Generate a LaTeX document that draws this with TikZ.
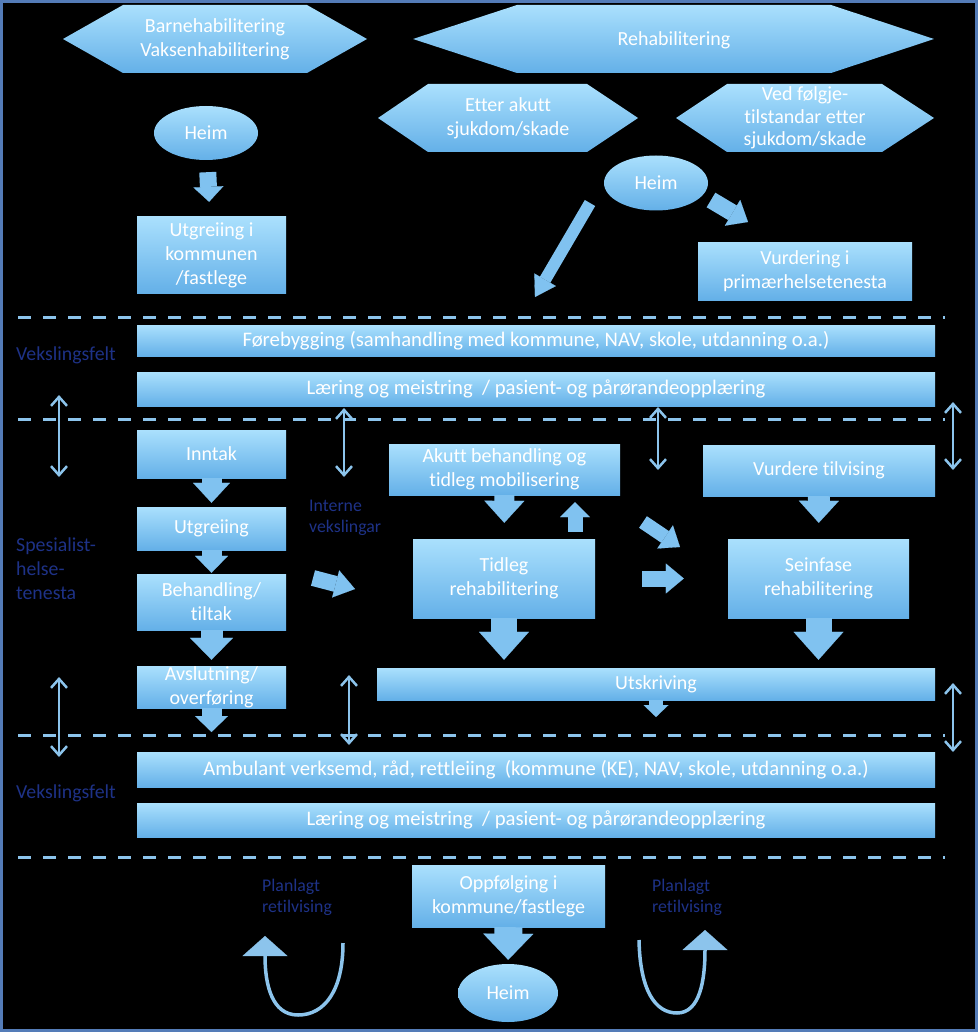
\documentclass[tikz,border=0pt]{standalone}
\usepackage{fontspec}
\setmainfont{Carlito}[Ligatures=NoCommon]
\usetikzlibrary{arrows.meta,shapes.geometric}
\definecolor{boxtop}{RGB}{170,224,253}
\definecolor{boxbot}{RGB}{100,176,232}
\definecolor{arrowblue}{RGB}{128,194,240}
\definecolor{dashblue}{RGB}{140,196,236}
\definecolor{lblblue}{RGB}{30,50,135}
\definecolor{frameblue}{RGB}{84,124,184}

\tikzset{
  boxfill/.style={top color=boxtop, bottom color=boxbot},
  txt/.style={font=\fontsize{20}{24}\selectfont, text=white, align=center},
  box/.style={boxfill, txt, inner sep=0pt},
  bar/.style={box, font=\fontsize{20.7}{24}\selectfont},
  heim/.style={ellipse, boxfill, txt, inner sep=0pt},
  lbl/.style={font=\fontsize{19.8}{24}\selectfont, text=lblblue, align=left, anchor=west, inner sep=0pt},
  smalllbl/.style={lbl, font=\fontsize{17.8}{21}\selectfont},
  blockarrow/.style n args={3}{draw=arrowblue, line width=#1pt, -{Triangle[width=#2pt, length=#3pt, line width=0.1pt]}},
  dashline/.style={draw=dashblue, line width=3pt, dash pattern=on 13pt off 12pt},
  dblarrow/.style={draw=dashblue, line width=2.5pt, {Straight Barb[width=16pt, length=9pt]}-{Straight Barb[width=16pt, length=9pt]}},
  curvarrow/.style={draw=dashblue, line width=3.5pt, -{Triangle[width=45pt, length=20pt, line width=0.1pt]}},
}

\begin{document}
\begin{tikzpicture}[x=1pt, y=-1pt]
  \useasboundingbox (0,0) rectangle (978,1032);
  \fill[black] (0,0) rectangle (978,1032);
  \draw[frameblue, line width=3pt] (1.5,1.5) rectangle (976.5,1030.5);

  %% Top: habilitering / rehabilitering
  \shade[boxfill] (63,39) -- (123,5) -- (307,5) -- (367,39) -- (307,73) -- (123,73) -- cycle;
  \node[txt] (habil) at (215,39) {Barnehabilitering\\Vaksenhabilitering};
  \shade[boxfill] (413,39) -- (517,5) -- (831,5) -- (934,39) -- (831,73) -- (517,73) -- cycle;
  \node[txt] (rehab) at (674,40) {Rehabilitering};
  \shade[boxfill] (378,118) -- (428,84) -- (587,84) -- (638,118) -- (587,152) -- (428,152) -- cycle;
  \node[txt] (akuttskade) at (508,118) {Etter akutt\\sjukdom/skade};
  \shade[boxfill] (676,118) -- (727,84) -- (882,84) -- (934,118) -- (882,152) -- (727,152) -- cycle;
  \node[txt, font=\fontsize{20}{22.5}\selectfont] (folgje) at (805,118) {Ved følgje-\\tilstandar etter\\sjukdom/skade};

  \node[heim, minimum width=104, minimum height=54] (heimA) at (206,133) {Heim};
  \node[box, minimum width=149, minimum height=76] (utgkom) at (211.5,255) {Utgreiing i\\kommunen\\/fastlege};
  \node[heim, minimum width=104, minimum height=55] (heimB) at (656,183) {Heim};
  \node[box, minimum width=214, minimum height=58] (vurd) at (805,271) {Vurdering i\\primærhelsetenesta};

  %% Dashed borders
  \draw[dashline] (18,317) -- (945,317);
  \draw[dashline] (18,419) -- (945,419);
  \draw[dashline] (18,735) -- (945,735);
  \draw[dashline] (18,857) -- (945,857);

  %% Vekslingsfelt, top
  \node[lbl] (vekslA) at (16,355) {Vekslingsfelt};
  \node[bar, minimum width=798, minimum height=31] (foreb) at (536,340.5) {Førebygging (samhandling med kommune, NAV, skole, utdanning o.a.)};
  \node[bar, minimum width=798, minimum height=34] (laerA) at (536,389) {Læring og meistring~ / pasient- og pårørandeopplæring};

  %% Spesialisthelsetenesta
  \node[lbl] (spes) at (16,569) {Spesialist-\\helse-\\tenesta};
  \node[smalllbl] (interne) at (309,517.5) {Interne\\vekslingar};
  \node[box, minimum width=149, minimum height=48] (inntak) at (211.5,454) {Inntak};
  \node[box, minimum width=149, minimum height=43] (utgr) at (211.5,528.5) {Utgreiing};
  \node[box, minimum width=149, minimum height=56] (behand) at (211.5,602) {Behandling/\\tiltak};
  \node[box, minimum width=149, minimum height=42] (avsl) at (211.5,687) {Avslutning/\\overføring};
  \node[box, minimum width=231, minimum height=51] (akutt) at (504.5,469.5) {Akutt behandling og\\tidleg mobilisering};
  \node[box, minimum width=182, minimum height=79] (tidleg) at (504,578.5) {Tidleg\\rehabilitering};
  \node[box, minimum width=232, minimum height=51] (vurdtil) at (819,470.5) {Vurdere tilvising};
  \node[box, minimum width=181, minimum height=79] (seinf) at (818.5,578.5) {Seinfase\\rehabilitering};
  \node[box, minimum width=558, minimum height=32] (utskr) at (656,684) {Utskriving};

  %% Vekslingsfelt, bottom
  \node[lbl] (vekslB) at (16,793) {Vekslingsfelt};
  \node[bar, minimum width=798, minimum height=35] (ambul) at (536,769.5) {Ambulant verksemd, råd, rettleiing~ (kommune (KE), NAV, skole, utdanning o.a.)};
  \node[bar, minimum width=798, minimum height=34] (laerB) at (536,820) {Læring og meistring~ / pasient- og pårørandeopplæring};

  %% Oppfolging
  \node[box, minimum width=193, minimum height=62] (oppf) at (508.5,896) {Oppfølging i\\kommune/fastlege};
  \node[heim, minimum width=100, minimum height=58] (heimC) at (508,993) {Heim};
  \node[smalllbl] (planA) at (262,897.5) {Planlagt\\retilvising};
  \node[smalllbl] (planB) at (652,897.5) {Planlagt\\retilvising};

  %% Free ends
  \coordinate (homeL1) at (590,203);
  \coordinate (homeL2) at (535,297);
  \coordinate (homeR1) at (711,200);
  \coordinate (homeR2) at (748,222);
  \coordinate (midD1) at (643,522);
  \coordinate (midD2) at (680,547);
  \coordinate (intern1) at (313,578);
  \coordinate (intern2) at (355,589);
  \coordinate (avslEnd) at (211.5,732);
  \coordinate (utskrEnd) at (656,717);

  %% Block arrows
  \draw[blockarrow={17}{30}{15}, shorten <=12pt, shorten >=15pt] (heimA) -- (utgkom);
  \draw[blockarrow={12}{25}{20}] (homeL1) -- (homeL2);
  \draw[blockarrow={17}{30}{18}] (homeR1) -- (homeR2);
  \draw[blockarrow={20}{37}{20}, shorten >=4pt] (inntak) -- (utgr);
  \draw[blockarrow={20}{33}{17}, shorten >=1pt] (utgr) -- (behand);
  \draw[blockarrow={22}{43}{22}, shorten >=6pt] (behand) -- (avsl);
  \draw[blockarrow={20}{33}{16}] (avsl) -- (avslEnd);
  \draw[blockarrow={20}{40}{22}, shorten >=16pt] (akutt) -- (tidleg);
  \draw[blockarrow={15}{30}{15}, shorten <=7pt, shorten >=7pt] ([xshift=71pt]tidleg.north) -- ([xshift=71pt]tidleg.north |- akutt.south);
  \draw[blockarrow={26}{50}{28}, shorten >=8pt] (tidleg.south) -- (tidleg.south |- utskr.north);
  \draw[blockarrow={22}{40}{22}, shorten >=16pt] (vurdtil) -- (seinf);
  \draw[blockarrow={26}{50}{28}, shorten >=8pt] (seinf.south) -- (seinf.south |- utskr.north);
  \draw[blockarrow={14}{25}{12}] (utskr) -- (utskrEnd);
  \draw[blockarrow={14}{28}{18}] (midD1) -- (midD2);
  \draw[blockarrow={16}{30}{18}, shorten <=47pt, shorten >=44pt] (tidleg) -- (seinf);
  \draw[blockarrow={16}{28}{20}] (intern1) -- (intern2);
  \draw[blockarrow={28}{50}{26}, shorten >=4pt] (oppf) -- (heimC);

  %% Exchange arrows
  \foreach \n/\x/\a/\b in {xa/59/395/477, xb/344/408/477, xc/658/407/470, xd/953/402/470,
                           xe/59/677/757, xf/349/675/745, xg/953/683/752} {
    \coordinate (\n-top) at (\x,\a);
    \coordinate (\n-bot) at (\x,\b);
    \draw[dblarrow] (\n-top) -- (\n-bot);
  }

  %% Planned return loops
  \coordinate (loopL1) at (343,943);
  \coordinate (loopL2) at (265,936);
  \coordinate (loopR1) at (639,940);
  \coordinate (loopR2) at (705,930);
  \draw[curvarrow] (loopL1) .. controls (343,990) and (325,1015) .. (298,1015) .. controls (272,1015) and (265,985) .. (loopL2);
  \draw[curvarrow] (loopR1) .. controls (640,990) and (655,1013) .. (677,1013) .. controls (700,1013) and (705,980) .. (loopR2);
\end{tikzpicture}
\end{document}
